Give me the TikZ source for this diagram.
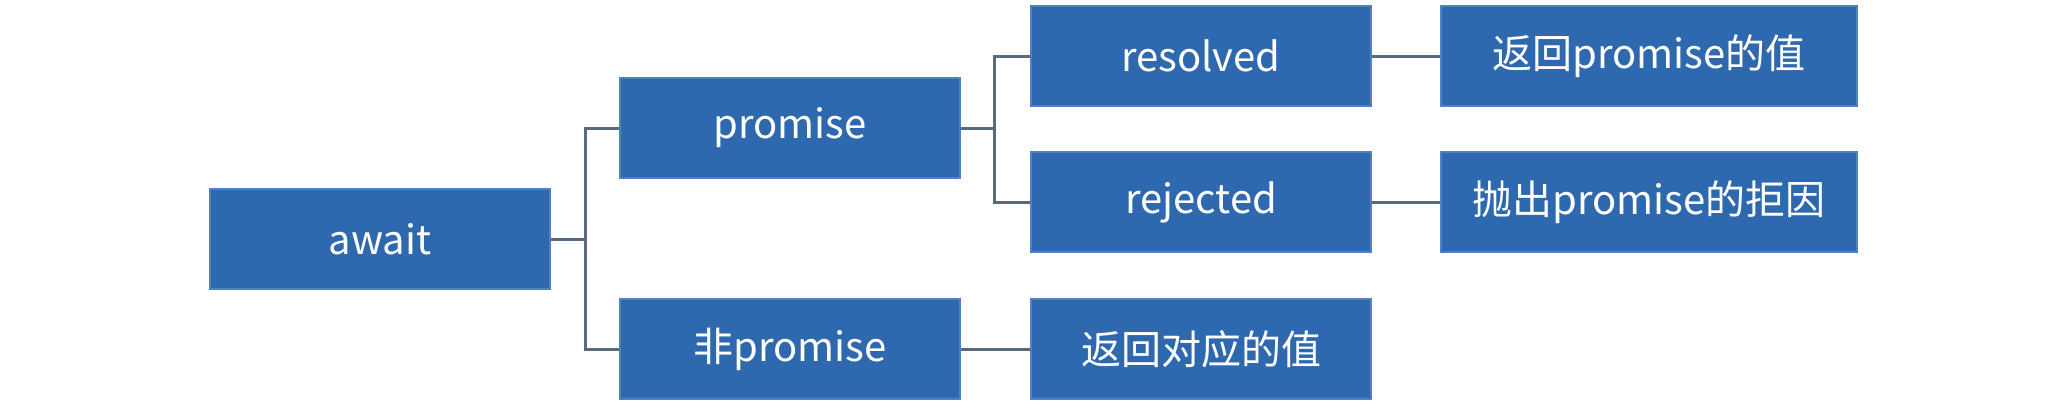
\documentclass[tikz,border=0pt]{standalone}
\usepackage{fontspec}
\setmainfont{Noto Sans CJK SC}
\definecolor{boxblue}{RGB}{46,105,175}
\definecolor{boxedge}{RGB}{80,130,195}
\definecolor{linkgray}{RGB}{88,106,128}
\tikzset{
  box/.style={draw=boxedge, line width=0.6pt, fill=boxblue, text=white,
    minimum width=170pt, minimum height=50pt, inner sep=0pt,
    font=\fontsize{20pt}{24pt}\selectfont},
  widebox/.style={box, minimum width=208pt},
  link/.style={draw=linkgray, line width=1.5pt}
}
\begin{document}
\begin{tikzpicture}[x=0.5pt, y=-0.5pt]
\useasboundingbox (0,0) rectangle (2048,407);
% nodes
\node[box] (await) at (380,239) {await};
\node[box] (promise) at (790,128) {promise};
\node[box] (nonpromise) at (790,349) {非promise};
\node[box] (resolved) at (1201,56) {resolved};
\node[box] (rejected) at (1201,202) {rejected};
\node[box] (retval) at (1201,349) {返回对应的值};
\node[widebox] (resval) at (1649,56) {返回promise的值};
\node[widebox] (reason) at (1649,202) {抛出promise的拒因};
% forks
\coordinate (fork1) at (585,239);
\coordinate (fork2) at (994,128);
\draw[link] (await.east) -- (fork1);
\draw[link] (fork1) |- (promise.west);
\draw[link] (fork1) |- (nonpromise.west);
\draw[link] (promise.east) -- (fork2);
\draw[link] (fork2) |- (resolved.west);
\draw[link] (fork2) |- (rejected.west);
\draw[link] (resolved) -- (resval);
\draw[link] (rejected) -- (reason);
\draw[link] (nonpromise) -- (retval);
\end{tikzpicture}
\end{document}
